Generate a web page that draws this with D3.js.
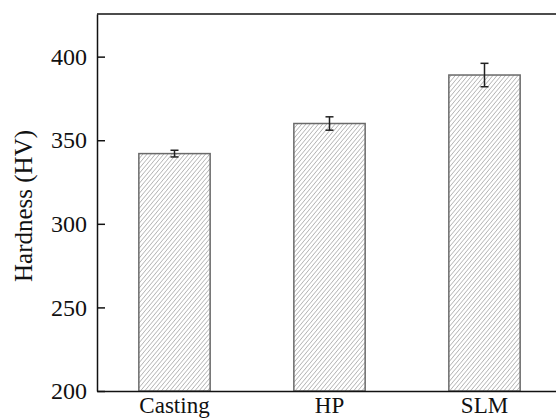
<!DOCTYPE html>
<html>
<head>
<meta charset="utf-8">
<script src="https://cdn.jsdelivr.net/npm/d3@7"></script>
<style>
  body { margin: 0; background: #fff; }
  svg { display: block; }
</style>
</head>
<body>
<div id="chart"></div>
<script>
// data
const categories = ["Casting", "HP", "SLM"];
const hardness = [342, 360, 389];
const errors = [2, 4, 7];
const yTicks = [200, 250, 300, 350, 400];

const W = 556, H = 419;
const margin = { top: 14, right: -6, bottom: 28, left: 97 };
const width = W - margin.left - margin.right,
  height = H - margin.top - margin.bottom;
const serif = "'Liberation Serif', 'Times New Roman', serif";

const svg = d3.select("#chart")
  .append("svg")
  .attr("width", W)
  .attr("height", H);

// hatch pattern for bars
svg.append("defs")
  .append("pattern")
  .attr("id", "hatch")
  .attr("patternUnits", "userSpaceOnUse")
  .attr("width", 3.2)
  .attr("height", 3.2)
  .attr("patternTransform", "rotate(40)")
  .append("line")
  .attr("x1", 0).attr("y1", 0)
  .attr("x2", 0).attr("y2", 3.2)
  .attr("stroke", "#7a7a7a")
  .attr("stroke-width", 0.9);

const g = svg.append("g")
  .attr("transform", "translate(" + margin.left + "," + margin.top + ")");

const x = d3.scaleBand()
  .domain(categories)
  .range([0, width])
  .paddingInner(0.54)
  .paddingOuter(0.27);

const y = d3.scaleLinear()
  .domain([200, 425.5])
  .range([height, 0]);

// bars
g.selectAll(".bar")
  .data(categories)
  .enter()
  .append("rect")
  .attr("class", "bar")
  .attr("x", d => x(d))
  .attr("y", (d, i) => y(hardness[i]))
  .attr("width", x.bandwidth())
  .attr("height", (d, i) => y(200) - y(hardness[i]))
  .attr("fill", "url(#hatch)")
  .attr("stroke", "#6a6a6a")
  .attr("stroke-width", 1.5);

// error bars
const eb = g.selectAll(".err")
  .data(categories)
  .enter()
  .append("g")
  .attr("class", "err")
  .attr("stroke", "#222")
  .attr("stroke-width", 1.5);
eb.append("line")
  .attr("x1", d => x(d) + x.bandwidth() / 2)
  .attr("x2", d => x(d) + x.bandwidth() / 2)
  .attr("y1", (d, i) => y(hardness[i] - errors[i]))
  .attr("y2", (d, i) => y(hardness[i] + errors[i]));
[-1, 1].forEach(s => {
  eb.append("line")
    .attr("x1", d => x(d) + x.bandwidth() / 2 - 4)
    .attr("x2", d => x(d) + x.bandwidth() / 2 + 4)
    .attr("y1", (d, i) => y(hardness[i] + s * errors[i]))
    .attr("y2", (d, i) => y(hardness[i] + s * errors[i]));
});

// y axis with inward ticks
const yAxis = g.append("g")
  .call(d3.axisLeft(y).tickValues(yTicks).tickSizeInner(-8).tickSizeOuter(0).tickPadding(10));
yAxis.select(".domain").attr("stroke", "#111").attr("stroke-width", 1.5);
yAxis.selectAll(".tick line").attr("stroke", "#111").attr("stroke-width", 1.5);
yAxis.selectAll(".tick text")
  .attr("fill", "#111")
  .style("font-family", serif)
  .style("font-size", "24px");

// x axis without ticks
const xAxis = g.append("g")
  .attr("transform", "translate(0," + height + ")")
  .call(d3.axisBottom(x).tickSize(0).tickPadding(6));
xAxis.select(".domain").attr("stroke", "#111").attr("stroke-width", 1.5);
xAxis.selectAll(".tick text")
  .attr("fill", "#111")
  .style("font-family", serif)
  .style("font-size", "23px");

// top frame line
g.append("line")
  .attr("x1", 0).attr("x2", width)
  .attr("y1", 0).attr("y2", 0)
  .attr("stroke", "#111")
  .attr("stroke-width", 1.5);

// y title
g.append("text")
  .attr("transform", "rotate(-90)")
  .attr("x", -(206 - margin.top))
  .attr("y", -margin.left + 32)
  .attr("text-anchor", "middle")
  .attr("fill", "#111")
  .style("font-family", serif)
  .style("font-size", "25px")
  .text("Hardness (HV)");
</script>
</body>
</html>
